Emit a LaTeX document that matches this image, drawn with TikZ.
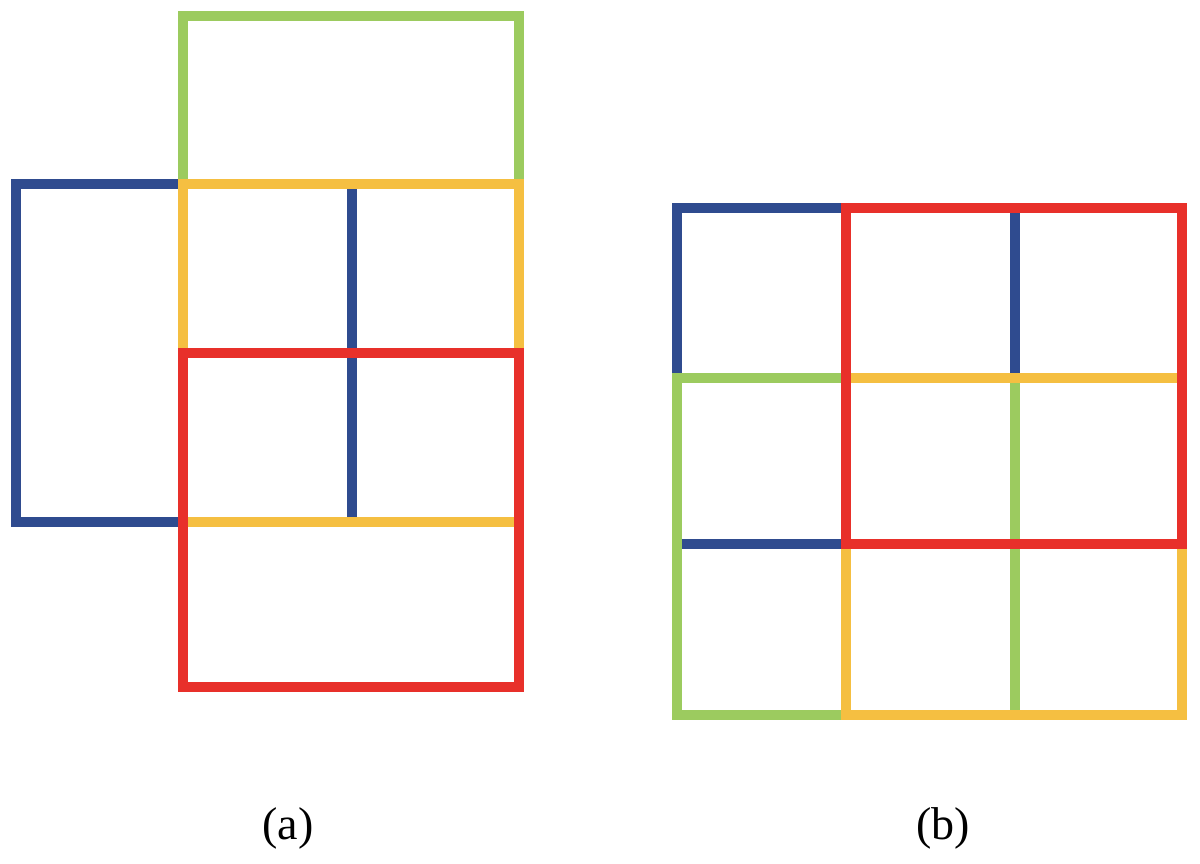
\documentclass[tikz,border=0pt]{standalone}
\usepackage{fontspec}
\setmainfont{Liberation Serif}
\definecolor{cblue}{HTML}{2F4B8F}
\definecolor{cgreen}{HTML}{9CCB5F}
\definecolor{cyellow}{HTML}{F5BF41}
\definecolor{cred}{HTML}{E8302A}
\begin{document}
\begin{tikzpicture}[x=1pt,y=-1pt,
  edge/.style={line width=9.5pt},
  lbl/.style={font=\fontsize{46}{52}\selectfont, inner sep=0pt}]
\useasboundingbox (0,0) rectangle (1200,864);
% ---------- (a) ----------
\draw[edge,cblue] (16,184) rectangle (183,522);
\draw[edge,cblue] (352,184) -- (352,522);
\draw[edge,cgreen] (183,16) rectangle (519,184);
\draw[edge,cyellow] (183,184) rectangle (519,522);
\draw[edge,cred] (183,353) rectangle (519,687);
\node[lbl] (la) at (288,828) {(a)};
% ---------- (b) ----------
\draw[edge,cblue] (677,208) rectangle (846,544);
\draw[edge,cblue] (1015,208) -- (1015,378);
\draw[edge,cgreen] (677,378) rectangle (846,715);
\draw[edge,cgreen] (1015,378) -- (1015,715);
\draw[edge,cyellow] (846,378) rectangle (1182,715);
\draw[edge,cred] (846,208) rectangle (1182,544);
\node[lbl] (lb) at (943,828) {(b)};
\end{tikzpicture}
\end{document}
